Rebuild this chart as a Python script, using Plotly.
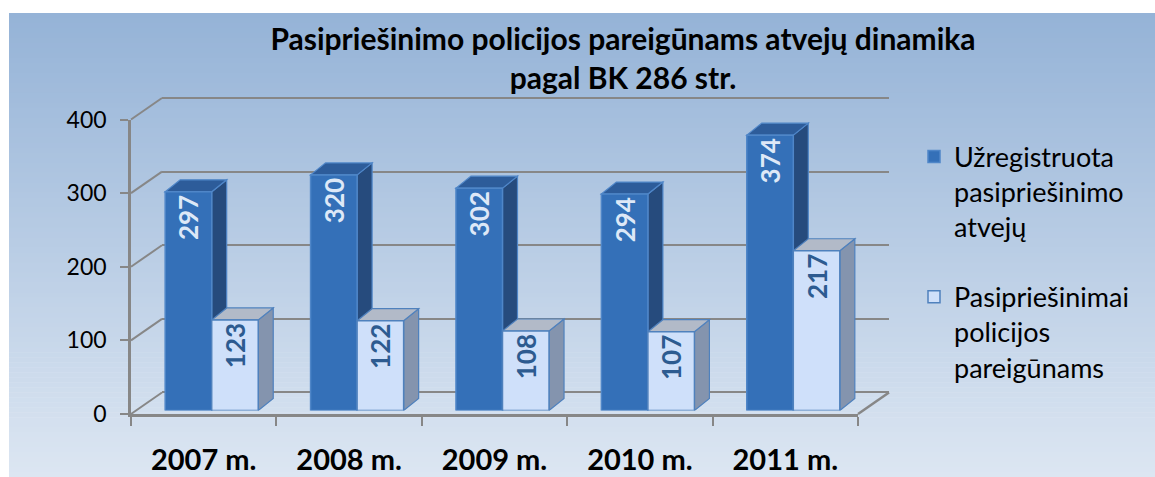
import plotly.graph_objects as go

# ---------------- data ----------------
categories = ["2007 m.", "2008 m.", "2009 m.", "2010 m.", "2011 m."]
registered = [297, 320, 302, 294, 374]
against_officers = [123, 122, 108, 107, 217]
series_names = [
    "Užregistruota<br>pasipriešinimo<br>atvejų",
    "Pasipriešinimai<br>policijos<br>pareigūnams",
]
y_ticks = [0, 100, 200, 300, 400]
title_text = "Pasipriešinimo policijos pareigūnams atvejų dinamika<br>pagal BK 286 str."

# ---------------- geometry / style ----------------
W, H = 1155, 477
FONT = "Lato"
FRONT_L, FRONT_R = 131, 858          # front x-axis span (px)
FRONT_Y0 = 414                       # front y of value 0 (px)
SCALE = 294.5 / 400                  # px per unit
DEPTH = (31, -21.5)                  # box depth offset (px)
BAR_SHIFT = (8, -3.5)                # bar plane offset from front (px)
BAR_DEPTH = (15, -12)                # bar depth (px)
BARGAP = 0.36
GRID = "#878787"

def fx(px):
    return px / W

def fy(px):
    return 1 - px / H

n = len(categories)
x_idx = list(range(n))
cat_px = (FRONT_R - FRONT_L) / n
YMAX = y_ticks[-1]

fig = go.Figure()

# invisible anchors so that the back-wall and front-frame subplots are drawn
fig.add_trace(go.Scatter(x=[None], y=[None], xaxis="x", yaxis="y", showlegend=False,
                         hoverinfo="skip", mode="markers"))
fig.add_trace(go.Scatter(x=[None], y=[None], xaxis="x3", yaxis="y3", showlegend=False,
                         hoverinfo="skip", mode="markers"))

# ---------------- bars ----------------
dark_front = "#3470b8"
light_front = "#cfe0fa"
fig.add_trace(go.Bar(
    x=x_idx, y=registered, name=series_names[0], xaxis="x2", yaxis="y2",
    legendgroup="a",
    marker=dict(color=dark_front, line=dict(color="#4f86c8", width=1.5)),
    texttemplate="%{y}", textposition="inside", insidetextanchor="end",
    textangle=-90, constraintext="none",
    textfont=dict(family=FONT, size=26, weight="bold", color="#dde8f7"),
))
fig.add_trace(go.Bar(
    x=x_idx, y=against_officers, name=series_names[1], xaxis="x2", yaxis="y2",
    legendgroup="b",
    marker=dict(color=light_front, line=dict(color="#4f81bd", width=1.5)),
    texttemplate="%{y}", textposition="inside", insidetextanchor="end",
    textangle=-90, constraintext="none",
    textfont=dict(family=FONT, size=26, weight="bold", color="#2d5b90"),
))

shapes = []

# background gradient (stripes)
top_c = (149, 179, 215)
bot_c = (220, 230, 242)
y_start = 13
N = 93
step = (H - y_start) / N
for k in range(N):
    t = k / (N - 1)
    c = tuple(round(top_c[j] + (bot_c[j] - top_c[j]) * t) for j in range(3))
    shapes.append(dict(
        type="rect", xref="paper", yref="paper", layer="below",
        x0=fx(9), x1=1, y0=max(0, fy(y_start + (k + 1) * step + 0.6)), y1=fy(y_start + k * step),
        fillcolor="rgb(%d,%d,%d)" % c, line=dict(width=0),
    ))

# side wall diagonals and right floor edge
for v in y_ticks:
    yf = FRONT_Y0 - v * SCALE
    shapes.append(dict(
        type="line", xref="paper", yref="paper", layer="below",
        x0=fx(FRONT_L), y0=fy(yf), x1=fx(FRONT_L + DEPTH[0]), y1=fy(yf + DEPTH[1]),
        line=dict(color=GRID, width=2),
    ))
shapes.append(dict(
    type="line", xref="paper", yref="paper", layer="below",
    x0=fx(FRONT_R), y0=fy(FRONT_Y0), x1=fx(FRONT_R + DEPTH[0]), y1=fy(FRONT_Y0 + DEPTH[1]),
    line=dict(color=GRID, width=2.5),
))

# 3D faces of bars (side + top), computed from the data
w = (1 - BARGAP) / 2
dxu = BAR_DEPTH[0] / cat_px
dyu = -BAR_DEPTH[1] / SCALE
face_styles = [
    (registered, -w, 0.0, "#264b7d", "#2d5c9a", "#4f86c8"),
    (against_officers, 0.0, w, "#8494ae", "#b2bac8", "#4f81bd"),
]
for vals, lo, hi, side_c, top_cc, edge in face_styles:
    for i, v in zip(x_idx, vals):
        xl, xr = i + lo, i + hi
        shapes.append(dict(
            type="path", xref="x2", yref="y2", layer="below",
            path=f"M {xr},0 L {xr + dxu},{dyu} L {xr + dxu},{v + dyu} L {xr},{v} Z",
            fillcolor=side_c, line=dict(color=edge, width=1.2),
        ))
        shapes.append(dict(
            type="path", xref="x2", yref="y2", layer="below",
            path=f"M {xl},{v} L {xl + dxu},{v + dyu} L {xr + dxu},{v + dyu} L {xr},{v} Z",
            fillcolor=top_cc, line=dict(color=edge, width=1.2),
        ))

# ---------------- layout ----------------
back_y0 = FRONT_Y0 + DEPTH[1]
fig.update_layout(
    width=W, height=H,
    margin=dict(l=0, r=0, t=0, b=0, autoexpand=False),
    paper_bgcolor="white",
    plot_bgcolor="rgba(0,0,0,0)",
    barmode="group", bargap=BARGAP, bargroupgap=0,
    shapes=shapes,
    font=dict(family=FONT, color="black"),
    title=dict(
        text=title_text, x=fx(623), xanchor="center", y=fy(50), yanchor="middle",
        font=dict(family=FONT, size=30, weight="bold", color="black"),
    ),
    legend=dict(
        x=fx(914), xanchor="left", y=fy(262), yanchor="middle", valign="top",
        font=dict(family=FONT, size=27, color="black"),
        bgcolor="rgba(0,0,0,0)", traceorder="grouped", tracegroupgap=32,
    ),
    # back wall (gridlines)
    xaxis=dict(domain=[fx(FRONT_L + DEPTH[0]), fx(FRONT_R + DEPTH[0])], range=[-0.5, n - 0.5],
               showgrid=False, zeroline=False, showline=False, showticklabels=False,
               ticks="", anchor="y", fixedrange=True, automargin=False),
    yaxis=dict(domain=[fy(back_y0 + 2 * SCALE), fy(back_y0 - (YMAX + 2) * SCALE)],
               range=[-2, YMAX + 2], tickvals=y_ticks, showgrid=True, gridcolor=GRID,
               gridwidth=2, zeroline=False, showline=False, showticklabels=False,
               ticks="", anchor="x", fixedrange=True, automargin=False),
    # bars
    xaxis2=dict(domain=[fx(FRONT_L + BAR_SHIFT[0]), fx(FRONT_R + BAR_SHIFT[0])],
                range=[-0.5, n - 0.5], visible=False, anchor="y2", fixedrange=True,
                automargin=False),
    yaxis2=dict(domain=[fy(FRONT_Y0 + BAR_SHIFT[1]), fy(FRONT_Y0 + BAR_SHIFT[1] - YMAX * SCALE)],
                range=[0, YMAX], visible=False, anchor="x2", fixedrange=True, automargin=False),
    # front frame (axis lines, ticks, labels)
    xaxis3=dict(domain=[fx(FRONT_L), fx(FRONT_R)], range=[-0.5, n - 0.5],
                tickvals=x_idx, ticktext=categories, ticks="",
                minor=dict(tickvals=[i - 0.5 for i in range(n + 1)], ticks="outside",
                           ticklen=9, tickwidth=2, tickcolor=GRID, showgrid=False),
                showline=True, linecolor=GRID, linewidth=2.5, showgrid=False, zeroline=False,
                tickfont=dict(family=FONT, size=29, weight="bold", color="black"),
                ticklabelstandoff=18, anchor="y3", fixedrange=True, automargin=False),
    yaxis3=dict(domain=[fy(FRONT_Y0), fy(FRONT_Y0 - YMAX * SCALE)], range=[0, YMAX],
                tickvals=y_ticks, ticks="outside", ticklen=8, tickwidth=2, tickcolor=GRID,
                showline=True, linecolor=GRID, linewidth=2.5, showgrid=False, zeroline=False,
                tickfont=dict(family=FONT, size=23, color="black"),
                ticklabelstandoff=9, anchor="x3", fixedrange=True, automargin=False),
)

fig.write_html(
    "out.html",
    config={"displayModeBar": False},
    post_script="document.body.style.margin='0';document.body.style.overflow='hidden';",
)
